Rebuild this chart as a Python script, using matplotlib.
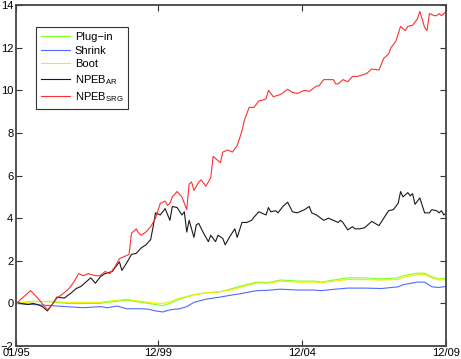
import matplotlib
matplotlib.use('Agg')
import matplotlib.pyplot as plt

plt.rcParams['font.family'] = 'Liberation Sans'
plt.rcParams['mathtext.fontset'] = 'custom'
plt.rcParams['mathtext.rm'] = 'Liberation Sans'

# month index 0 = 01/95 ... 179 = 12/09
tick_months = [0, 59, 119, 179]
tick_labels = ['01/95', '12/99', '12/04', '12/09']

srg_m = [0, 3, 6, 9, 13, 15, 17, 20, 22, 24, 26, 28, 30, 33, 35, 37, 39, 41, 43, 45, 47, 48, 50, 51,
         52, 54, 56, 57, 58, 60, 61, 62, 63, 64, 65, 67, 69, 71, 72, 73, 74, 76, 77, 79, 81, 82,
         84, 85, 86, 88, 90, 92, 94, 95, 97, 99, 101, 103, 104, 105, 107, 110, 113, 115, 117, 120,
         122, 125, 126, 128, 130, 132, 133, 134, 136, 138, 140, 142, 145, 146, 148, 151, 153, 155,
         156, 158, 160, 162, 163, 165, 167, 168, 170, 171, 172, 174, 175, 176, 177, 179]
srg_v = [0.0, 0.3, 0.6, 0.25, -0.3, -0.05, 0.25, 0.5, 0.7, 1.0, 1.4, 1.3, 1.4, 1.3, 1.3, 1.5, 1.4,
         1.7, 2.1, 2.2, 2.3, 3.3, 3.5, 3.3, 3.2, 3.35, 3.6, 3.8, 4.0, 4.7, 4.75, 4.8, 4.6, 4.7, 5.0,
         5.25, 5.0, 4.4, 5.6, 5.7, 5.3, 5.7, 5.8, 5.5, 5.9, 6.9, 6.7, 6.6, 7.1, 7.2, 7.1, 7.4, 8.1,
         8.6, 9.2, 9.2, 9.5, 9.55, 9.6, 10.0, 9.7, 9.8, 10.05, 9.9, 9.85, 10.0, 9.95, 10.2, 10.2,
         10.5, 10.5, 10.5, 10.3, 10.3, 10.5, 10.4, 10.65, 10.65, 10.75, 10.8, 11.0, 10.95, 11.5,
         11.7, 12.0, 12.3, 13.0, 12.8, 13.0, 13.05, 13.35, 13.7, 12.95, 12.8, 13.6, 13.5, 13.5,
         13.6, 13.5, 13.7]

ar_m = [0, 2, 5, 7, 9, 11, 13, 15, 17, 20, 23, 25, 27, 29, 31, 33, 35, 37, 40, 42, 43, 44, 46, 48,
        50, 52, 54, 56, 57, 58, 60, 62, 64, 65, 67, 69, 70, 71, 72, 74, 75, 76, 78, 80, 81, 83, 84,
        86, 87, 89, 91, 92, 94, 96, 98, 99, 101, 104, 105, 106, 108, 109, 111, 113, 115, 117, 120,
        122, 123, 125, 128, 130, 132, 134, 135, 136, 138, 140, 141, 143, 145, 148, 151, 153, 155,
        157, 159, 160, 161, 163, 164, 165, 166, 168, 170, 172, 173, 175, 176, 177, 178, 179]
ar_v = [0.05, 0.0, -0.05, 0.0, -0.05, -0.15, -0.35, -0.05, 0.3, 0.25, 0.5, 0.7, 0.8, 1.0, 1.2,
        0.95, 1.25, 1.4, 1.5, 1.8, 1.95, 1.55, 1.9, 2.3, 2.35, 2.6, 2.75, 3.0, 3.6, 4.25, 4.15,
        4.45, 3.9, 4.55, 4.5, 4.15, 4.3, 3.35, 3.9, 3.1, 3.7, 3.75, 3.3, 2.9, 3.2, 2.9, 3.2, 3.05,
        2.75, 3.15, 3.5, 3.1, 3.8, 3.8, 3.9, 4.05, 4.3, 4.15, 4.5, 4.3, 4.35, 4.25, 4.55, 4.75,
        4.3, 4.25, 4.4, 4.55, 4.25, 4.15, 3.9, 4.0, 3.9, 3.8, 3.9, 3.8, 3.45, 3.6, 3.5, 3.5, 3.55,
        3.85, 3.65, 4.0, 4.35, 4.4, 4.7, 5.25, 5.0, 5.2, 5.05, 5.15, 4.65, 4.95, 4.25, 4.25, 4.4,
        4.35, 4.25, 4.35, 4.15, 4.25]

low_m = [0, 7, 14, 21, 28, 35, 38, 42, 46, 52, 55, 58, 61, 64, 68, 71, 74, 79, 85, 90, 93, 100,
         105, 110, 117, 124, 127, 131, 138, 145, 152, 159, 161, 167, 170, 173, 176, 179]
plugin_v = [0.0, 0.1, 0.08, 0.0, 0.0, 0.0, 0.05, 0.1, 0.15, 0.05, 0.0, -0.05, -0.1, 0.0, 0.2, 0.3,
            0.4, 0.5, 0.55, 0.7, 0.8, 1.0, 0.98, 1.1, 1.05, 1.05, 1.0, 1.08, 1.2, 1.2, 1.15, 1.2,
            1.3, 1.42, 1.42, 1.25, 1.15, 1.2]
boot_v = [0.0, 0.08, 0.1, 0.05, 0.05, 0.05, 0.1, 0.15, 0.2, 0.1, 0.05, 0.02, 0.0, 0.08, 0.25,
          0.33, 0.42, 0.5, 0.55, 0.65, 0.75, 0.95, 0.95, 1.05, 1.0, 1.0, 0.98, 1.03, 1.12, 1.12,
          1.1, 1.12, 1.22, 1.35, 1.36, 1.2, 1.1, 1.12]
shrink_v = [0.0, -0.05, -0.1, -0.15, -0.2, -0.15, -0.2, -0.12, -0.25, -0.25, -0.27, -0.35, -0.4,
            -0.3, -0.25, -0.15, 0.05, 0.2, 0.3, 0.4, 0.45, 0.6, 0.62, 0.67, 0.63, 0.63, 0.6, 0.65,
            0.72, 0.72, 0.7, 0.78, 0.88, 1.0, 1.0, 0.78, 0.75, 0.8]

fig = plt.figure(figsize=(4.61, 3.59), dpi=100)
ax = fig.add_axes([0.035, 0.036, 0.933, 0.95])

ax.plot(low_m, plugin_v, color='#80ff20', lw=0.8, label='Plug\u2212in')
ax.plot(low_m, shrink_v, color='#4d6bff', lw=0.8, label='Shrink')
ax.plot(low_m, boot_v, color='#eeee00', lw=0.8, label='Boot')
ax.plot(ar_m, ar_v, color='#1a1a1a', lw=0.8, label=r'NPEB$_{\mathrm{AR}}$')
ax.plot(srg_m, srg_v, color='#ff3030', lw=0.8, label=r'NPEB$_{\mathrm{SRG}}$')

ax.set_xlim(0, 179)
ax.set_ylim(-2, 14)
ax.set_xticks(tick_months)
ax.set_xticklabels(tick_labels)
ax.set_yticks(range(-2, 15, 2))
ax.tick_params(direction='in', length=4, width=0.8, labelsize=8, pad=2,
               top=True, right=True, colors='#333333', labelcolor='black')
ax.tick_params(axis='x', pad=1.5)
for s in ax.spines.values():
    s.set_color('#444444')
    s.set_linewidth(1.3)

leg = ax.legend(loc='upper left', bbox_to_anchor=(0.047, 0.935), fontsize=8,
                fancybox=False, framealpha=1, edgecolor='#333333', handlelength=2.6,
                handletextpad=0.4, borderpad=0.45, labelspacing=0.32, borderaxespad=0)
leg.get_frame().set_linewidth(0.8)

fig.savefig('out.png', dpi=100)
